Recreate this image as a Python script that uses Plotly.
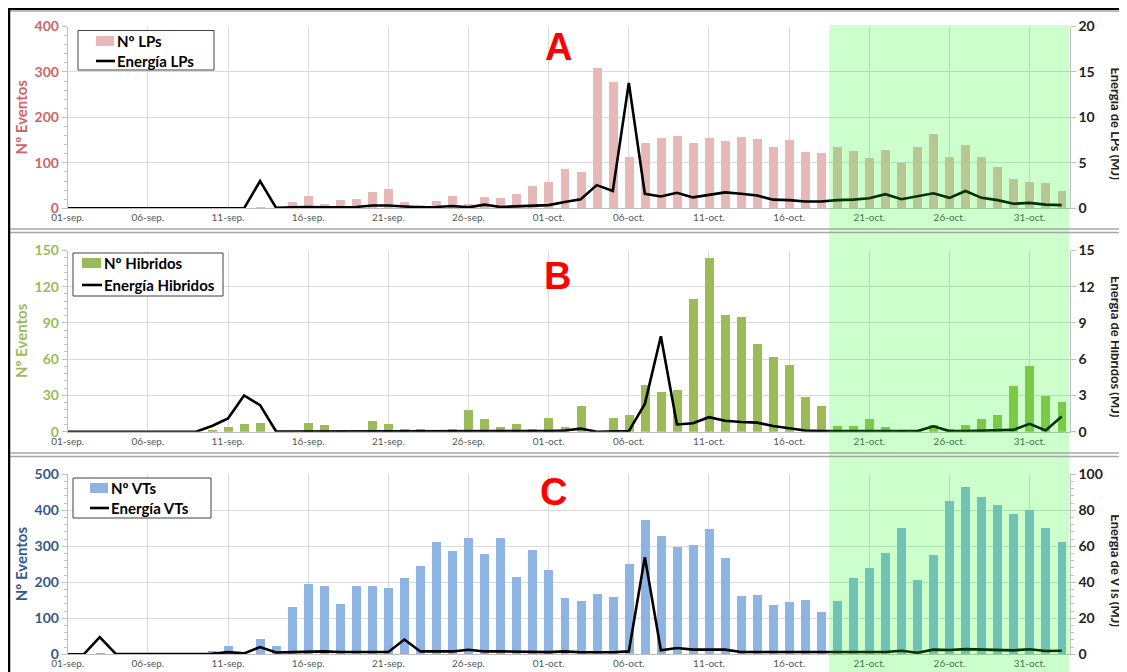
import pandas as pd
import plotly.graph_objects as go

# ---------------- DATA ----------------
dates = pd.date_range("2021-09-01", "2021-11-02", freq="D")
tick_labels = ["01-sep.", "06-sep.", "11-sep.", "16-sep.", "21-sep.", "26-sep.",
               "01-oct.", "06-oct.", "11-oct.", "16-oct.", "21-oct.", "26-oct.", "31-oct."]
tick_dates = list(dates[0:61:5])

lp_count = [0, 0, 0, 0, 0, 0, 0, 0, 0, 0, 0, 0, 3, 0, 14, 28, 11, 19, 22, 36, 44,
            15, 9, 17, 29, 10, 26, 23, 32, 50, 60, 88, 80, 309, 278, 115, 145, 155,
            161, 145, 155, 150, 158, 154, 136, 152, 125, 123, 135, 128, 112, 130,
            100, 135, 164, 115, 141, 113, 93, 66, 60, 56, 40]
lp_energy = [0, 0, 0, 0, 0, 0, 0, 0, 0, 0, 0, 0, 3.0, 0.05, 0.1, 0.15, 0.1, 0.15,
             0.15, 0.3, 0.3, 0.2, 0.1, 0.15, 0.25, 0.1, 0.4, 0.15, 0.2, 0.25, 0.35,
             0.7, 1.0, 2.55, 1.9, 13.8, 1.6, 1.3, 1.7, 1.2, 1.45, 1.75, 1.6, 1.4,
             0.95, 0.9, 0.75, 0.75, 0.9, 0.95, 1.1, 1.55, 1.0, 1.3, 1.65, 1.15, 1.9,
             1.15, 0.9, 0.5, 0.6, 0.4, 0.35]

hib_count = [0, 0, 0, 0, 0, 0, 0, 0, 0, 2, 4, 7, 8, 0, 0, 8, 6, 1, 0, 9, 7, 3, 3,
             0, 3, 18, 11, 4, 7, 3, 12, 4, 22, 0, 12, 14, 39, 33, 35, 110, 144, 97,
             95, 73, 62, 56, 29, 22, 5, 5, 11, 4, 1, 1, 6, 3, 6, 11, 14, 38, 55, 30, 25]
hib_energy = [0, 0, 0, 0, 0, 0, 0, 0, 0, 0.47, 1.1, 3.0, 2.2, 0.02, 0.02, 0.02,
              0.02, 0.02, 0.02, 0.02, 0.02, 0.02, 0.02, 0.02, 0.02, 0.02, 0.02,
              0.02, 0.02, 0.02, 0.05, 0.1, 0.25, 0.0, 0.05, 0.05, 2.3, 7.9, 0.6, 0.7,
              1.2, 0.9, 0.8, 0.75, 0.47, 0.3, 0.1, 0.05, 0.05, 0.05, 0.05, 0.05,
              0.05, 0.05, 0.45, 0.05, 0.05, 0.1, 0.1, 0.15, 0.65, 0.1, 1.25]

vt_count = [0, 0, 2, 0, 0, 0, 0, 0, 0, 7, 21, 0, 41, 21, 131, 194, 190, 140, 189,
            190, 184, 211, 245, 310, 286, 323, 277, 323, 215, 288, 233, 156, 147,
            167, 159, 251, 372, 328, 296, 302, 346, 266, 161, 163, 136, 145, 150,
            118, 148, 210, 240, 280, 350, 205, 275, 424, 465, 436, 413, 390, 399,
            350, 310]
vt_energy = [0, 0, 9.5, 0.2, 0.2, 0.2, 0.2, 0.2, 0.2, 0.3, 1.2, 0.5, 4.0, 1.0, 1.2,
             1.6, 1.6, 1.3, 1.3, 1.3, 1.3, 8.2, 1.6, 1.6, 1.6, 2.5, 1.6, 1.6, 1.5,
             1.5, 1.2, 1.6, 1.1, 1.1, 1.1, 1.6, 54.0, 2.2, 3.5, 2.6, 2.6, 2.6, 1.3,
             1.3, 0.9, 0.9, 0.9, 0.9, 0.9, 1.1, 1.3, 1.3, 2.0, 0.9, 2.6, 2.4, 2.9,
             2.6, 2.4, 2.2, 2.8, 1.8, 2.0]

shade_start = "2021-10-18 12:00"
shade_end = "2021-11-02 12:00"

# ---------------- STYLE ----------------
# the page body has an 8px margin, so the figure is drawn 8px smaller and
# screen pixel positions are converted with that offset
OFF = 8
W, H = 1127 - OFF, 672 - OFF
FONT = "Lato"

def px(x):
    return (x - OFF) / W

def py(y):
    return 1 - (y - OFF) / H

x_dom = [px(67.7), px(1069.7)]
panels = [  # (top px, bottom px) on screen
    (26.5, 208.3),
    (250.5, 431.7),
    (474.3, 654.3),
]

panel_cfg = [
    dict(count=lp_count, energy=lp_energy, bar_name="Nº LPs", line_name="Energía LPs",
         bar_color="#E6B9B8", left_color="#D06464", lrange=[0, 400], ldtick=100, lminor=20,
         rrange=[0, 20], rdtick=5, rminor=None, rtitle="Energía de LPs (MJ)",
         letter="A", letter_xy=(558, 47),
         legend_box=(78, 30.5, 214, 70), legend_mark=(96, 114), legend_rows=(41, 61)),
    dict(count=hib_count, energy=hib_energy, bar_name="Nº Hibridos", line_name="Energía Hibridos",
         bar_color="#9BBB59", left_color="#9BBB59", lrange=[0, 150], ldtick=30, lminor=6,
         rrange=[0, 15], rdtick=3, rminor=None, rtitle="Energía de Hibridos (MJ)",
         letter="B", letter_xy=(557, 276),
         legend_box=(73, 253, 223, 296), legend_mark=(82, 101), legend_rows=(263, 285)),
    dict(count=vt_count, energy=vt_energy, bar_name="Nº VTs", line_name="Energía VTs",
         bar_color="#8DB4E2", left_color="#34588A", lrange=[0, 500], ldtick=100, lminor=20,
         rrange=[0, 100], rdtick=20, rminor=4, rtitle="Energía de VTs (MJ)",
         letter="C", letter_xy=(553, 492),
         legend_box=(73, 478, 211, 518), legend_mark=(90, 108), legend_rows=(488, 508)),
]

fig = go.Figure()
layout = dict(
    template="none",
    width=W, height=H, margin=dict(l=0, r=0, t=0, b=0, pad=0, autoexpand=False),
    paper_bgcolor="white", plot_bgcolor="white",
    font=dict(family=FONT, color="#222"),
    showlegend=False, bargap=0,
)
annotations = []
shapes = []
bar_w = 0.56 * 86400000

# green shaded period (semi-transparent, drawn over the data)
shapes.append(dict(type="rect", xref="x", yref="paper", x0=shade_start, x1=shade_end,
                   y0=0, y1=py(25), fillcolor="rgba(0,255,0,0.2)",
                   line=dict(width=0), layer="above"))

for i, cfg in enumerate(panel_cfg):
    xa = "x" if i == 0 else f"x{i+1}"
    yl = "y" if i == 0 else f"y{2*i+1}"
    yr = f"y{2*i+2}"
    fig.add_trace(go.Bar(x=dates, y=cfg["count"], name=cfg["bar_name"], width=bar_w,
                         marker=dict(color=cfg["bar_color"], line=dict(width=0)),
                         xaxis=xa, yaxis=yl))
    fig.add_trace(go.Scatter(x=dates, y=cfg["energy"], name=cfg["line_name"], mode="lines",
                             line=dict(color="black", width=2.6),
                             xaxis=xa, yaxis=yr))
    top, bot = panels[i]
    dom = [py(bot), py(top)]
    xkey = "xaxis" if i == 0 else f"xaxis{i+1}"
    ylkey = "yaxis" if i == 0 else f"yaxis{2*i+1}"
    yrkey = f"yaxis{2*i+2}"
    layout[xkey] = dict(
        domain=x_dom, anchor=yl, type="date", automargin=False,
        range=["2021-09-01", shade_end],
        tickmode="array", tickvals=tick_dates, ticktext=tick_labels,
        tickfont=dict(size=10, color="#555", family=FONT),
        showgrid=True, gridcolor="#D9D9D9", gridwidth=1,
        showline=True, linecolor="#BFBFBF", linewidth=1,
        ticks="", zeroline=False, fixedrange=True,
    )
    layout[ylkey] = dict(
        domain=dom, anchor=xa, range=cfg["lrange"], dtick=cfg["ldtick"], automargin=False,
        tickfont=dict(size=14, color=cfg["left_color"], family=FONT, weight="bold"),
        showgrid=True, gridcolor="#D9D9D9", gridwidth=1,
        showline=True, linecolor="#BFBFBF", linewidth=1,
        ticks="outside", ticklen=5, tickcolor="#BFBFBF",
        minor=dict(dtick=cfg["lminor"], ticks="outside", ticklen=3, tickcolor="#BFBFBF", showgrid=False),
        zeroline=False, fixedrange=True,
    )
    yr_cfg = dict(
        domain=dom, anchor=xa, overlaying=yl, side="right", automargin=False,
        range=cfg["rrange"], dtick=cfg["rdtick"],
        tickfont=dict(size=14, color="#222", family=FONT, weight="bold"),
        showgrid=False, showline=True, linecolor="#BFBFBF", linewidth=1,
        ticks="outside", ticklen=5, tickcolor="#BFBFBF",
        zeroline=False, fixedrange=True,
    )
    if cfg["rminor"]:
        yr_cfg["minor"] = dict(dtick=cfg["rminor"], ticks="outside", ticklen=3, tickcolor="#BFBFBF")
    layout[yrkey] = yr_cfg

    # legend box (drawn by hand so that its size matches the original)
    bx0, by0, bx1, by1 = cfg["legend_box"]
    mx0, mx1 = cfg["legend_mark"]
    r1, r2 = cfg["legend_rows"]
    shapes.append(dict(type="rect", xref="paper", yref="paper", x0=px(bx0), x1=px(bx1),
                       y0=py(by1), y1=py(by0), fillcolor="white",
                       line=dict(color="#404040", width=1), layer="above"))
    shapes.append(dict(type="rect", xref="paper", yref="paper", x0=px(mx0), x1=px(mx1),
                       y0=py(r1 + 5), y1=py(r1 - 5), fillcolor=cfg["bar_color"],
                       line=dict(width=0), layer="above"))
    shapes.append(dict(type="line", xref="paper", yref="paper", x0=px(mx0), x1=px(mx1 + 1),
                       y0=py(r2), y1=py(r2), line=dict(color="black", width=2.6), layer="above"))
    for txt, ry in ((cfg["bar_name"], r1), (cfg["line_name"], r2)):
        annotations.append(dict(
            text=txt, x=px(mx1 + 1), y=py(ry), xref="paper", yref="paper",
            showarrow=False, xanchor="left", yanchor="middle",
            font=dict(size=15, color="black", family=FONT, weight="bold")))

    cy = (top + bot) / 2
    annotations.append(dict(
        text="Nº Eventos", x=px(21), y=py(cy), xref="paper", yref="paper",
        textangle=-90, showarrow=False, xanchor="center", yanchor="middle",
        font=dict(size=15, color=cfg["left_color"], family=FONT, weight="bold")))
    annotations.append(dict(
        text=cfg["rtitle"], x=px(1116), y=py(cy + 6), xref="paper", yref="paper",
        textangle=90, showarrow=False, xanchor="center", yanchor="middle",
        font=dict(size=13, color="#222", family=FONT, weight="bold")))
    tx, ty = cfg["letter_xy"]
    annotations.append(dict(
        text=cfg["letter"], x=px(tx), y=py(ty), xref="paper", yref="paper",
        showarrow=False, xanchor="center", yanchor="middle",
        font=dict(size=38, color="#FF0000", family="Liberation Sans", weight="bold")))

# frame and separators
for ypx in (229, 232.5, 453, 456.5):
    shapes.append(dict(type="line", xref="paper", yref="paper", x0=0, x1=1,
                       y0=py(ypx), y1=py(ypx), line=dict(color="#A6A6A6", width=1.3),
                       layer="above"))
shapes.append(dict(type="line", xref="paper", yref="paper", x0=0, x1=1,
                   y0=py(9), y1=py(9), line=dict(color="black", width=2.5), layer="above"))
shapes.append(dict(type="line", xref="paper", yref="paper", x0=0, x1=1,
                   y0=py(11.5), y1=py(11.5), line=dict(color="#BBBBBB", width=1), layer="above"))
shapes.append(dict(type="line", xref="paper", yref="paper", x0=px(9), x1=px(9),
                   y0=0, y1=py(8), line=dict(color="black", width=2.5), layer="above"))

layout["annotations"] = annotations
layout["shapes"] = shapes
fig.update_layout(**layout)
fig.write_html("out.html")
